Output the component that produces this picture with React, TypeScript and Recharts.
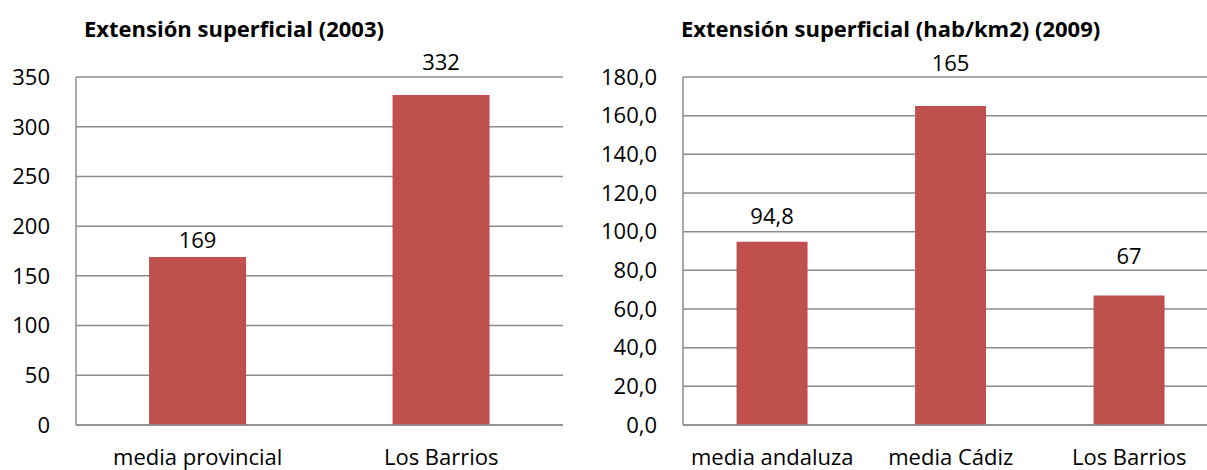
import React from 'react';
import { BarChart, Bar, XAxis, YAxis, CartesianGrid } from 'recharts';

const leftTitle = 'Extensión superficial (2003)';
const leftCategories = ['media provincial', 'Los Barrios'];
const leftValues = [169, 332];
const leftLabels = ['169', '332'];
const leftTicks = [0, 50, 100, 150, 200, 250, 300, 350];

const rightTitle = 'Extensión superficial (hab/km2) (2009)';
const rightCategories = ['media andaluza', 'media Cádiz', 'Los Barrios'];
const rightValues = [94.8, 165, 67];
const rightLabels = ['94,8', '165', '67'];
const rightTicks = [0, 20, 40, 60, 80, 100, 120, 140, 160, 180];

// distance (px) from bar top to the centre of each data label, as placed in the original
const leftLabelGaps = [18, 34];
const rightLabelGaps = [27, 44, 40];

const leftData = leftCategories.map((c, i) => ({ name: c, value: leftValues[i], label: leftLabels[i] }));
const rightData = rightCategories.map((c, i) => ({ name: c, value: rightValues[i], label: rightLabels[i] }));

const FONT = '"Open Sans", sans-serif';
const BAR = '#C0504D';
const GRID = '#8c8c8c';
const tickStyle = { fill: '#000', fontSize: 22, fontFamily: FONT };

const titleStyle: React.CSSProperties = {
  position: 'absolute',
  top: 14,
  fontFamily: FONT,
  fontWeight: 700,
  fontSize: 22,
  color: '#000',
  whiteSpace: 'nowrap',
  lineHeight: '28px',
};

const makeLabel = (labels: string[], gaps: number[]) => (props: any) => {
  const { x, y, width, index } = props;
  return (
    <text
      x={Number(x) + Number(width) / 2}
      y={Number(y) - gaps[index]}
      textAnchor="middle"
      dominantBaseline="central"
      fill="#000"
      fontSize={22}
      fontFamily={FONT}
    >
      {labels[index]}
    </text>
  );
};

export default function App() {
  return (
    <div style={{ position: 'absolute', left: 0, top: 0, width: 1207, height: 470, overflow: 'hidden', background: '#fff' }}>
      <div style={{ ...titleStyle, left: 84 }}>{leftTitle}</div>
      <div style={{ ...titleStyle, left: 681 }}>{rightTitle}</div>
      <div style={{ position: 'absolute', left: 0, top: 0 }}>
        <BarChart width={600} height={470} data={leftData} margin={{ top: 77, right: 37, bottom: 0, left: 0 }} barCategoryGap="30%">
          <CartesianGrid vertical={false} stroke={GRID} strokeWidth={1.5} />
          <XAxis dataKey="name" height={45} axisLine={{ stroke: GRID, strokeWidth: 1.5 }} tickLine={false} tick={tickStyle} tickMargin={18} interval={0} />
          <YAxis width={76} domain={[0, 350]} ticks={leftTicks} axisLine={{ stroke: GRID, strokeWidth: 1.5 }} tickLine={false} tick={tickStyle} tickMargin={20} interval={0} />
          <Bar dataKey="value" fill={BAR} isAnimationActive={false} label={makeLabel(leftLabels, leftLabelGaps)} />
        </BarChart>
      </div>
      <div style={{ position: 'absolute', left: 600, top: 0 }}>
        <BarChart width={700} height={470} data={rightData} margin={{ top: 77, right: 81.5, bottom: 0, left: 0 }} barCategoryGap="30%">
          <CartesianGrid vertical={false} stroke={GRID} strokeWidth={1.5} />
          <XAxis dataKey="name" height={45} axisLine={{ stroke: GRID, strokeWidth: 1.5 }} tickLine={false} tick={tickStyle} tickMargin={18} interval={0} />
          <YAxis width={83} domain={[0, 180]} ticks={rightTicks} axisLine={{ stroke: GRID, strokeWidth: 1.5 }} tickLine={false} tick={tickStyle} tickMargin={20} interval={0}
            tickFormatter={(v: number) => v.toFixed(1).replace('.', ',')} />
          <Bar dataKey="value" fill={BAR} isAnimationActive={false} label={makeLabel(rightLabels, rightLabelGaps)} />
        </BarChart>
      </div>
    </div>
  );
}
